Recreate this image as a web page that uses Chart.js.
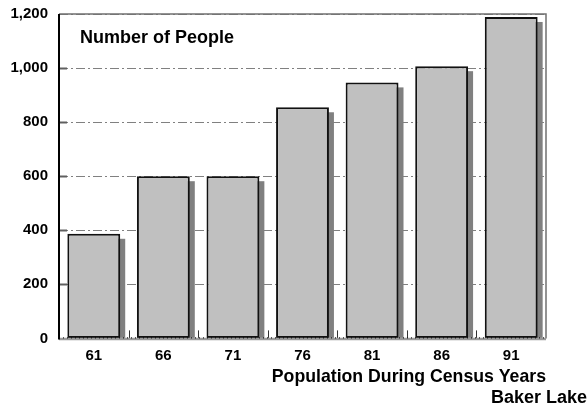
<!DOCTYPE html>
<html>
<head>
<meta charset="utf-8">
<script src="https://cdn.jsdelivr.net/npm/chart.js@4/dist/chart.umd.min.js"></script>
<style>
  html, body { margin: 0; padding: 0; background: #fff; }
  #wrap { width: 587px; height: 411px; }
</style>
</head>
<body>
<div id="wrap"><canvas id="c" width="587" height="411"></canvas></div>
<script>
// Census years and Baker Lake population
const years = ['61', '66', '71', '76', '81', '86', '91'];
const population = [387, 600, 600, 855, 947, 1007, 1189];
const yTickValues = [0, 200, 400, 600, 800, 1000, 1200];
const yTickLabels = ['0', '200', '400', '600', '800', '1,000', '1,200'];

const FONT = '"Liberation Sans", Arial, Helvetica, sans-serif';

// Drop shadows behind each bar, offset down and to the right
const barShadow = {
  id: 'barShadow',
  beforeDatasetsDraw(chart) {
    const ctx = chart.ctx;
    const meta = chart.getDatasetMeta(0);
    ctx.save();
    ctx.fillStyle = '#808080';
    meta.data.forEach(el => {
      const p = el.getProps(['x', 'y', 'base', 'width'], true);
      const left = p.x - p.width / 2;
      ctx.fillRect(left + 5, p.y + 5, p.width, p.base - p.y - 5);
    });
    ctx.restore();
  }
};

// Plot frame, inner tick marks and the in-plot caption
const frame = {
  id: 'frame',
  afterDatasetsDraw(chart) {
    const ctx = chart.ctx;
    const a = chart.chartArea;
    const xs = chart.scales.x;
    const ys = chart.scales.y;
    ctx.save();

    // top and right edges
    ctx.strokeStyle = '#707070';
    ctx.lineWidth = 1.5;
    ctx.beginPath();
    ctx.moveTo(a.left, a.top);
    ctx.lineTo(a.right, a.top);
    ctx.lineTo(a.right, a.bottom);
    ctx.stroke();

    // short ticks on the inside of the value axis
    ctx.strokeStyle = '#606060';
    ctx.lineWidth = 2;
    yTickValues.slice(1, -1).forEach(v => {
      const y = Math.round(ys.getPixelForValue(v)) + 0.5;
      ctx.beginPath();
      ctx.moveTo(a.left, y);
      ctx.lineTo(a.left + 8, y);
      ctx.stroke();
    });

    // short ticks between categories
    ctx.strokeStyle = '#303030';
    ctx.lineWidth = 1;
    for (let i = 0; i < years.length - 1; i++) {
      const x = Math.round((xs.getPixelForValue(i) + xs.getPixelForValue(i + 1)) / 2) + 0.5;
      ctx.beginPath();
      ctx.moveTo(x, a.bottom);
      ctx.lineTo(x, a.bottom - 8);
      ctx.stroke();
    }

    // bottom axis: grey band with a dotted line along it
    ctx.strokeStyle = '#9a9a9a';
    ctx.lineWidth = 2.5;
    ctx.beginPath();
    ctx.moveTo(a.left, a.bottom + 0.5);
    ctx.lineTo(a.right, a.bottom + 0.5);
    ctx.stroke();
    ctx.strokeStyle = '#000';
    ctx.lineWidth = 1;
    ctx.setLineDash([1, 3]);
    ctx.beginPath();
    ctx.moveTo(a.left, a.bottom - 0.5);
    ctx.lineTo(a.right, a.bottom - 0.5);
    ctx.stroke();
    ctx.setLineDash([]);

    // left axis
    ctx.strokeStyle = '#000';
    ctx.lineWidth = 2;
    ctx.beginPath();
    ctx.moveTo(a.left, a.top);
    ctx.lineTo(a.left, a.bottom + 1);
    ctx.stroke();

    // caption
    ctx.fillStyle = '#000';
    ctx.font = 'bold 18px ' + FONT;
    ctx.textAlign = 'left';
    ctx.textBaseline = 'alphabetic';
    ctx.fillText('Number of People', a.left + 21, a.top + 29);

    ctx.restore();
  }
};

Chart.defaults.color = '#000';

new Chart(document.getElementById('c'), {
  type: 'bar',
  data: {
    labels: years,
    datasets: [{
      data: population,
      backgroundColor: '#c0c0c0',
      borderColor: '#111',
      borderWidth: 2,
      borderSkipped: false,
      categoryPercentage: 1,
      barPercentage: 0.76
    }]
  },
  options: {
    responsive: false,
    animation: false,
    layout: { padding: { left: 0, right: 0, top: 14, bottom: 0 } },
    plugins: {
      legend: { display: false },
      tooltip: { enabled: false },
      title: {
        display: true,
        text: 'Baker Lake',
        position: 'bottom',
        align: 'end',
        color: '#000',
        font: { family: FONT, size: 18, weight: 'bold' },
        padding: { top: 0, bottom: 2 }
      }
    },
    scales: {
      x: {
        type: 'category',
        grid: { display: false, drawTicks: false },
        border: { display: false },
        ticks: {
          padding: 8,
          color: '#000',
          font: { family: FONT, size: 15, weight: 'bold' }
        },
        title: {
          display: true,
          text: 'Population During Census Years',
          align: 'end',
          color: '#000',
          font: { family: FONT, size: 17.7, weight: 'bold' },
          padding: { top: 4, bottom: 0 }
        },
        afterFit(s) { s.height = 49; s.paddingLeft = 0; s.paddingRight = 0; }
      },
      y: {
        type: 'linear',
        min: 0,
        max: 1200,
        afterBuildTicks(s) { s.ticks = yTickValues.map(v => ({ value: v })); },
        grid: { color: '#808080', lineWidth: 1, drawTicks: false },
        border: { display: false, dash: [9, 3, 2, 3] },
        ticks: {
          padding: 11,
          color: '#000',
          font: { family: FONT, size: 15, weight: 'bold' },
          callback(value, index) { return yTickLabels[index]; }
        },
        afterFit(s) { s.width = 59; s.paddingTop = 0; s.paddingBottom = 0; }
      },
      yRight: {
        type: 'linear',
        position: 'right',
        display: true,
        grid: { display: false, drawTicks: false },
        border: { display: false },
        ticks: { display: false },
        afterFit(s) { s.width = 41; s.paddingTop = 0; s.paddingBottom = 0; }
      }
    }
  },
  plugins: [barShadow, frame]
});
</script>
</body>
</html>
